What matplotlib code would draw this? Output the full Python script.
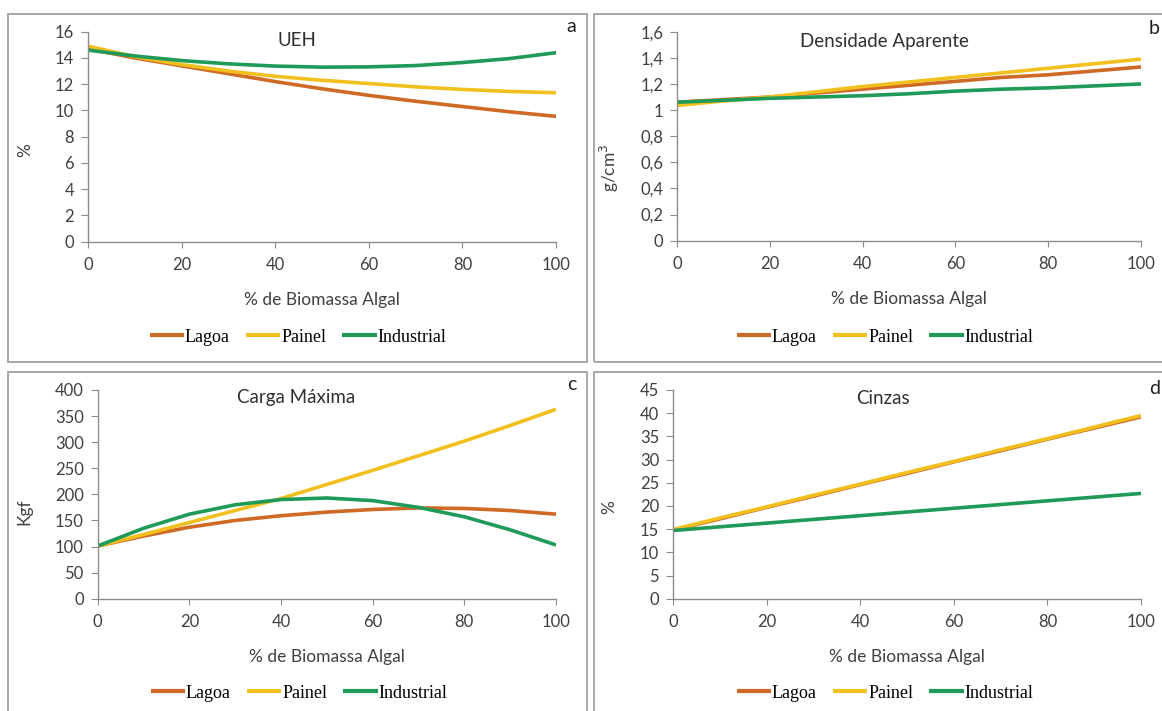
import matplotlib
matplotlib.use("Agg")
import matplotlib.pyplot as plt
from matplotlib.patches import Rectangle

# % de biomassa algal (x values read every 10 %)
x_pct = [0, 10, 20, 30, 40, 50, 60, 70, 80, 90, 100]
series_names = ["Lagoa", "Painel", "Industrial"]

# a - UEH (%)
ueh_lagoa = [14.7, 14.0, 13.4, 12.8, 12.2, 11.65, 11.15, 10.7, 10.3, 9.9, 9.55]
ueh_painel = [14.9, 14.1, 13.5, 13.0, 12.6, 12.3, 12.05, 11.8, 11.6, 11.45, 11.35]
ueh_industrial = [14.6, 14.15, 13.8, 13.55, 13.38, 13.3, 13.32, 13.42, 13.65, 13.95, 14.4]

# b - Densidade aparente (g/cm3)
dens_lagoa = [1.06, 1.08, 1.10, 1.13, 1.16, 1.19, 1.22, 1.25, 1.27, 1.30, 1.33]
dens_painel = [1.035, 1.07, 1.10, 1.14, 1.18, 1.215, 1.25, 1.285, 1.32, 1.355, 1.39]
dens_industrial = [1.06, 1.075, 1.09, 1.10, 1.11, 1.125, 1.145, 1.16, 1.17, 1.185, 1.20]

# c - Carga maxima (Kgf)
carga_lagoa = [101, 120, 137, 150, 159, 166, 171, 174, 173, 169, 162]
carga_painel = [101, 123, 146, 169, 192, 219, 246, 274, 302, 332, 363]
carga_industrial = [101, 135, 162, 180, 190, 193, 188, 175, 157, 132, 103]

# d - Cinzas (%)
cinzas_lagoa = [14.8, 17.2, 19.7, 22.1, 24.6, 27.0, 29.5, 31.9, 34.4, 36.8, 39.2]
cinzas_painel = [14.9, 17.4, 19.8, 22.3, 24.7, 27.2, 29.6, 32.1, 34.5, 37.0, 39.5]
cinzas_industrial = [14.7, 15.5, 16.3, 17.1, 17.9, 18.7, 19.5, 20.3, 21.1, 21.9, 22.7]

dens_ticks = [0, 0.2, 0.4, 0.6, 0.8, 1.0, 1.2, 1.4, 1.6]
dens_ticklabels = ["0", "0,2", "0,4", "0,6", "0,8", "1", "1,2", "1,4", "1,6"]

colors = ["#CF6A26", "#F2C01E", "#1F9A58"]
W, H = 1162, 711

fig = plt.figure(figsize=(W / 100, H / 100), dpi=100)
fig.patch.set_facecolor("white")

def px_rect(l, t, r, b):
    # pixel box -> figure fraction [left, bottom, width, height]
    return [l / W, 1 - b / H, (r - l) / W, (b - t) / H]

# panel frames
for (l, t, r, b) in [(8, 14, 587, 362), (594, 14, 1175, 362),
                     (8, 372, 587, 725), (594, 372, 1175, 725)]:
    fig.patches.append(Rectangle((l / W, 1 - b / H), (r - l) / W, (b - t) / H,
                                 transform=fig.transFigure, fill=False,
                                 edgecolor="#A0A0A0", linewidth=1.3))

panels = [
    dict(rect=(88, 31.7, 556, 241.7), data=[ueh_lagoa, ueh_painel, ueh_industrial],
         ylim=(0, 16), yticks=range(0, 17, 2), ylabels=None, ylabel="%",
         ylab_pos=(33, 150), title="UEH", title_pos=(297, 41), letter="a",
         letter_pos=(571, 27), leg_pos=(298, 337)),
    dict(rect=(677, 31.7, 1141, 240.7), data=[dens_lagoa, dens_painel, dens_industrial],
         ylim=(0, 1.6), yticks=dens_ticks, ylabels=dens_ticklabels, ylabel="g/cm$^3$",
         ylab_pos=(621, 168), title="Densidade Aparente", title_pos=(884, 41), letter="b",
         letter_pos=(1154, 29), leg_pos=(885, 337)),
    dict(rect=(97.7, 390, 556, 598.7), data=[carga_lagoa, carga_painel, carga_industrial],
         ylim=(0, 400), yticks=range(0, 401, 50), ylabels=None, ylabel="Kgf",
         ylab_pos=(32, 512), title="Carga Máxima", title_pos=(296, 397), letter="c",
         letter_pos=(572, 385), leg_pos=(299, 693)),
    dict(rect=(673, 390, 1141, 598.7), data=[cinzas_lagoa, cinzas_painel, cinzas_industrial],
         ylim=(0, 45), yticks=range(0, 46, 5), ylabels=None, ylabel="%",
         ylab_pos=(617, 507), title="Cinzas", title_pos=(883, 398), letter="d",
         letter_pos=(1155, 389), leg_pos=(885, 693)),
]

tick_font = "Lato"
for p in panels:
    l, t, r, b = p["rect"]
    ax = fig.add_axes(px_rect(l, t, r, b))
    for name, ys, c in zip(series_names, p["data"], colors):
        ax.plot(x_pct, ys, color=c, lw=2.6, label=name, solid_capstyle="butt")
    ax.set_xlim(0, 100)
    ax.set_ylim(*p["ylim"])
    ax.set_xticks(range(0, 101, 20))
    ax.set_yticks(list(p["yticks"]))
    if p["ylabels"] is not None:
        ax.set_yticklabels(p["ylabels"])
    for s in ["top", "right"]:
        ax.spines[s].set_visible(False)
    for s in ["left", "bottom"]:
        ax.spines[s].set_color("#8C8C8C")
        ax.spines[s].set_linewidth(1.0)
    ax.tick_params(axis="x", direction="out", length=4, color="#8C8C8C", pad=7,
                   labelsize=12, labelcolor="#404040")
    ax.tick_params(axis="y", direction="out", length=5, color="#8C8C8C", pad=5,
                   labelsize=12, labelcolor="#404040")
    for lab in ax.get_xticklabels() + ax.get_yticklabels():
        lab.set_family(tick_font)
    ax.patch.set_alpha(0)

    # x label sits ~50 px below the axis line
    ax.set_xlabel("% de Biomassa Algal", family=tick_font, fontsize=12.5, color="#404040")
    ax.xaxis.set_label_coords(0.5, -50 / (b - t))
    ax.set_ylabel(p["ylabel"], family=tick_font, fontsize=12.5, color="#404040")
    yl_x, yl_y = p["ylab_pos"]
    ax.yaxis.set_label_coords((yl_x - l) / (r - l), (b - yl_y) / (b - t))

    fig.text(p["title_pos"][0] / W, 1 - p["title_pos"][1] / H, p["title"],
             family=tick_font, fontsize=13.5, color="#303030", ha="center", va="center")
    fig.text(p["letter_pos"][0] / W, 1 - p["letter_pos"][1] / H, p["letter"],
             family=tick_font, fontsize=14, color="#202020", ha="center", va="center")

    lx, ly = p["leg_pos"]
    leg = ax.legend(loc="center", bbox_to_anchor=(lx / W, 1 - ly / H),
                    bbox_transform=fig.transFigure, ncol=3, frameon=False,
                    prop={"family": "Liberation Serif", "size": 13},
                    handlelength=1.9, handletextpad=0.05, columnspacing=0.9)
    for hl in leg.get_lines():
        hl.set_linewidth(3)

fig.savefig("out.png", dpi=100, facecolor="white")
